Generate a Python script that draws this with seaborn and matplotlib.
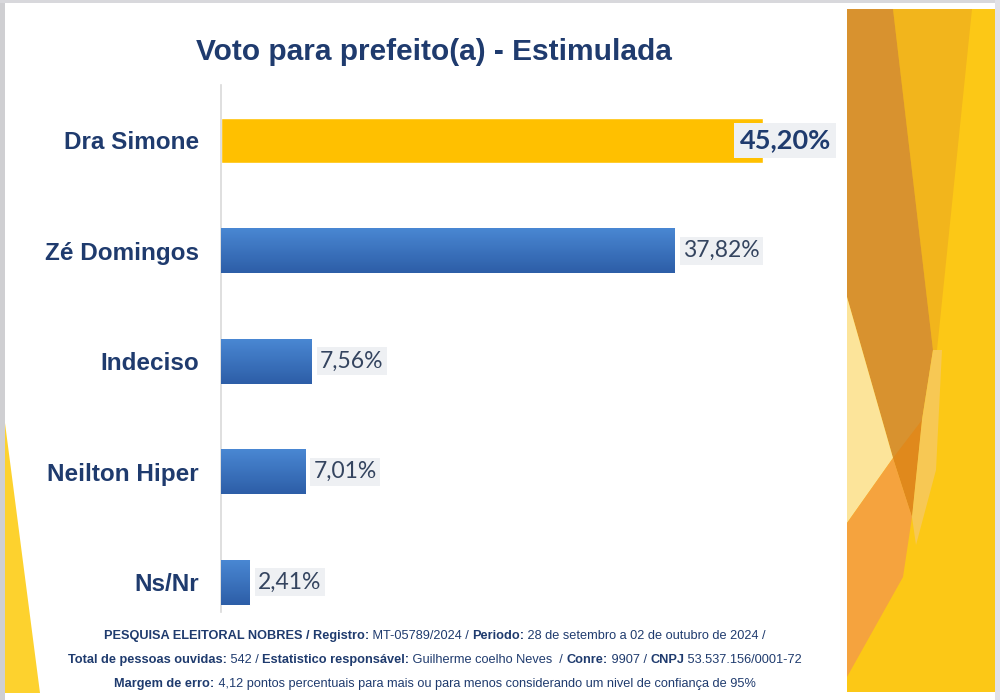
import matplotlib
matplotlib.use("Agg")
import matplotlib.pyplot as plt
import seaborn as sns
import numpy as np
import pandas as pd
from matplotlib.patches import Polygon
from matplotlib.colors import LinearSegmentedColormap

# Dados da pesquisa
candidatos = ["Dra Simone", "Zé Domingos", "Indeciso", "Neilton Hiper", "Ns/Nr"]
percentuais = [45.20, 37.82, 7.56, 7.01, 2.41]
cores = ["#FFC000", "#3B73C2", "#3B73C2", "#3B73C2", "#3B73C2"]

titulo = "Voto para prefeito(a) - Estimulada"
rodape = [
    [("PESQUISA ELEITORAL NOBRES / Registro:", True), (" MT-05789/2024 / ", False),
     ("Periodo:", True), (" 28 de setembro a 02 de outubro de 2024 /", False)],
    [("Total de pessoas ouvidas:", True), (" 542 / ", False),
     ("Estatistico responsável:", True), (" Guilherme coelho Neves  / ", False),
     ("Conre:", True), (" 9907 / ", False), ("CNPJ", True), (" 53.537.156/0001-72", False)],
    [("Margem de erro:", True),
     (" 4,12 pontos percentuais para mais ou para menos considerando um nivel de confiança de 95%", False)],
]

NAVY = "#1F3B6E"
W, H = 1000, 700

sns.set_style("white")
plt.rcParams["font.family"] = ["Liberation Sans", "DejaVu Sans"]

fig = plt.figure(figsize=(10, 7), dpi=100)
fig.patch.set_facecolor("white")


def px(x, y):
    """Convert pixel coords (top-left origin) to figure fraction."""
    return x / W, 1 - y / H


def poly(points, color, z=0):
    fig.patches.append(Polygon([px(*p) for p in points], closed=True,
                               transform=fig.transFigure, facecolor=color,
                               edgecolor="none", zorder=z))


# moldura cinza
poly([(0, 0), (5, 0), (5, 700), (0, 700)], "#CFCFD2")
poly([(0, 0), (1000, 0), (1000, 3), (0, 3)], "#D8D8DC")
poly([(995, 0), (1000, 0), (1000, 700), (995, 700)], "#E2E2E8")

# triangulo amarelo esquerdo
poly([(5, 423), (5, 693), (40, 693)], "#FDD22E")

# painel decorativo direito
poly([(847, 9), (995, 9), (995, 692), (847, 692)], "#FCC816")
poly([(893, 9), (972, 9), (937, 350), (933, 350)], "#F2B51C")
poly([(847, 9), (893, 9), (933, 350), (922, 420), (912, 517), (893, 458), (847, 297)], "#D8922F")
poly([(847, 297), (893, 458), (847, 523)], "#FCE49A")
poly([(922, 420), (893, 458), (912, 517)], "#E0891C")
poly([(847, 523), (893, 458), (912, 517), (903, 577), (847, 677)], "#F5A33E")
poly([(933, 350), (942, 350), (936, 470), (916, 545), (912, 517), (922, 420)], "#F7C854")

# eixo principal
ax = fig.add_axes([221 / W, 88 / H, 600 / W, 527 / H])
ax.set_facecolor("none")

df = pd.DataFrame({"candidato": candidatos, "pct": percentuais})
sns.barplot(data=df, x="pct", y="candidato", hue="candidato", palette=cores,
            saturation=1, legend=False, width=0.41, orient="h", ax=ax, zorder=2)

# gradiente nas barras azuis
grad = LinearSegmentedColormap.from_list("azul", ["#4A88D4", "#2D5EA7"])
for patch, cor in zip(ax.patches, cores):
    if cor == "#FFC000":
        continue
    bb = patch.get_bbox()
    img = ax.imshow(np.linspace(0, 1, 64).reshape(-1, 1), cmap=grad, aspect="auto",
                    extent=(bb.x0, bb.x1, bb.y1, bb.y0), zorder=3)
    img.set_clip_path(patch)

ax.set_xlim(0, 50)
ax.set_ylim(4.27, -0.5)

# rotulos de valor
for i, (v, cor) in enumerate(zip(percentuais, cores)):
    txt = f"{v:.2f}".replace(".", ",") + "%"
    if i == 0:
        ax.annotate(txt, (v, i), xytext=(-17, 0), textcoords="offset points",
                    ha="left", va="center", fontsize=19.5, fontweight="bold",
                    color=NAVY, family=["Lato", "DejaVu Sans"], zorder=5,
                    bbox=dict(boxstyle="square,pad=0.2", fc="#EEF0F3", ec="none"))
    else:
        ax.annotate(txt, (v, i), xytext=(6, 0), textcoords="offset points",
                    ha="left", va="center", fontsize=16.5, color="#34445F",
                    family=["Lato", "DejaVu Sans"], zorder=5,
                    bbox=dict(boxstyle="square,pad=0.15", fc="#EEF0F3", ec="none"))

ax.set_xlabel("")
ax.set_ylabel("")
ax.set_xticks([])
ax.tick_params(axis="y", length=0, pad=16)
for lab in ax.get_yticklabels():
    lab.set_fontsize(17.5)
    lab.set_fontweight("bold")
    lab.set_color(NAVY)
for s in ["top", "right", "bottom"]:
    ax.spines[s].set_visible(False)
ax.spines["left"].set_color("#D9D9D9")
ax.spines["left"].set_linewidth(1.2)

# titulo
fig.text(*px(434, 52), titulo, ha="center", va="center", fontsize=21.5,
         fontweight="bold", color=NAVY)

# rodape com trechos em negrito
renderer = fig.canvas.get_renderer()
narrow = ["Liberation Sans Narrow", "Liberation Sans", "DejaVu Sans"]
for linha, y in zip(rodape, [636, 660, 684]):
    objs = []
    for trecho, negrito in linha:
        t = fig.text(0, 1 - y / H, trecho, ha="left", va="center", fontsize=9.2,
                     fontweight="bold" if negrito else "normal", color=NAVY,
                     family=narrow)
        objs.append(t)
    larguras = [t.get_window_extent(renderer).width for t in objs]
    x = 435 - sum(larguras) / 2
    for t, w in zip(objs, larguras):
        t.set_x(x / W)
        x += w

fig.savefig("out.png", dpi=100)
